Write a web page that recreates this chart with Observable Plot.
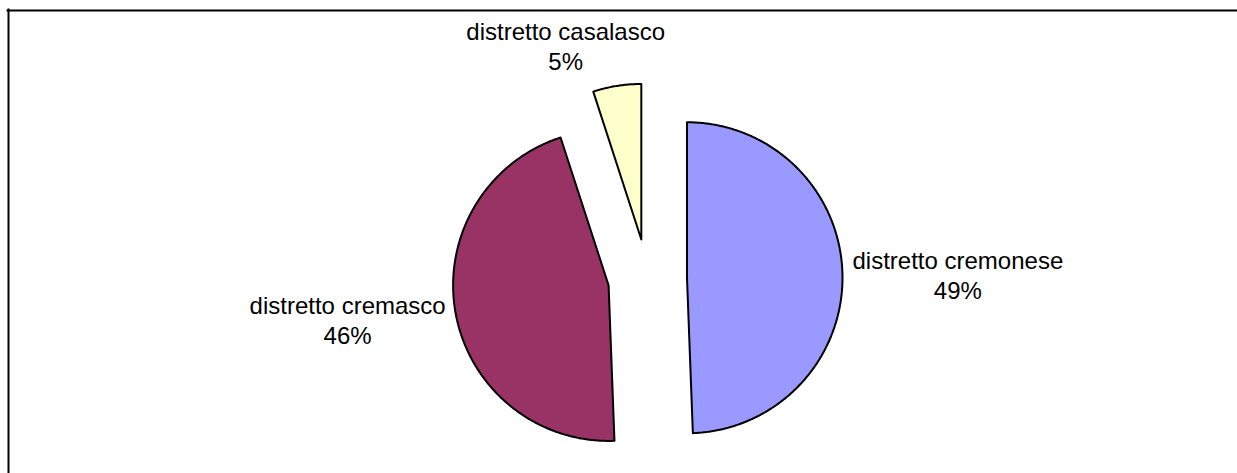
<!DOCTYPE html>
<html><head><meta charset="utf-8">
<script src="https://cdn.jsdelivr.net/npm/d3@7"></script>
<script src="https://cdn.jsdelivr.net/npm/@observablehq/plot@0.6"></script>
<style>html,body{margin:0;padding:0;background:#fff;overflow:hidden}</style>
</head><body><div id="chart"></div>
<script>
// ---- data ----
const categories = ["distretto cremonese", "distretto cremasco", "distretto casalasco"];
const values = [49.4, 45.6, 5.0];
const percentLabels = ["49%", "46%", "5%"];
const colors = ["#9999FF", "#993366", "#FFFFCC"];

// ---- layout ----
const W = 1237, H = 473;
const R = 155.5;            // pie radius in px
const cx = 647, cy = 278;   // pie centre in px
const explode = 39.5 / R;   // explosion distance (in radius units)
const labelGap = 10 / R;
const fontFamily = "'Liberation Sans', Arial, sans-serif";
const fontSize = 24;

const total = d3.sum(values);
let acc = 0;
const slices = categories.map((c, i) => {
  const a0 = acc / total * 2 * Math.PI;
  acc += values[i];
  const a1 = acc / total * 2 * Math.PI;
  const mid = (a0 + a1) / 2;
  return {c, i, a0, a1, mid, dx: Math.sin(mid), dy: Math.cos(mid),
          ox: explode * Math.sin(mid), oy: explode * Math.cos(mid)};
});

// polygon outline of each slice (centre + arc), in radius units
const poly = [];
for (const s of slices) {
  poly.push({c: s.c, x: s.ox, y: s.oy});
  const n = Math.max(2, Math.ceil((s.a1 - s.a0) / (Math.PI / 360)));
  for (let k = 0; k <= n; k++) {
    const a = s.a0 + (s.a1 - s.a0) * k / n;
    poly.push({c: s.c, x: s.ox + Math.sin(a), y: s.oy + Math.cos(a)});
  }
}

// label placement
const ctx = document.createElement("canvas").getContext("2d");
ctx.font = `${fontSize}px ${fontFamily}`;
const labelData = slices.map(s => {
  const text = s.c + "\n" + percentLabels[s.i];
  const w = Math.max(...text.split("\n").map(t => ctx.measureText(t).width)) / R;
  const px = s.ox + (1 + labelGap) * s.dx;
  const py = s.oy + (1 + labelGap) * s.dy;
  const fx = Math.max(-1, Math.min(1, 3.2 * s.dx));
  return {text, x: px + fx * w / 2, y: py + s.dy * (31 / R)};
});

const chart = Plot.plot({
  width: W, height: H, margin: 0,
  x: {domain: [-cx / R, (W - cx) / R], axis: null},
  y: {domain: [-(H - cy) / R, cy / R], axis: null},
  color: {domain: categories, range: colors},
  style: {fontFamily, overflow: "hidden", background: "white"},
  marks: [
    Plot.frame({anchor: "top", stroke: "black", strokeWidth: 2, insetTop: 10, insetLeft: 7}),
    Plot.frame({anchor: "left", stroke: "black", strokeWidth: 2, insetLeft: 8, insetTop: 9}),
    Plot.line(poly, {x: "x", y: "y", z: "c", fill: "c", stroke: "black", strokeWidth: 2, curve: "linear-closed"}),
    Plot.text(labelData, {x: "x", y: "y", text: "text", fontSize, lineHeight: 1.25, fill: "black", textAnchor: "middle"})
  ]
});
document.getElementById("chart").appendChild(chart);
</script>
</body></html>
